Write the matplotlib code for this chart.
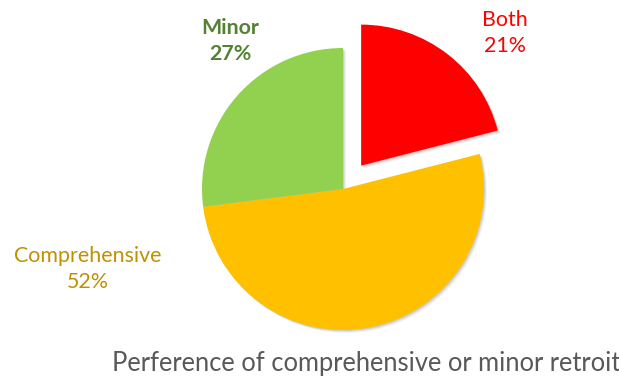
"""Pie chart of retrofit preference."""

import matplotlib.pyplot as plt

labels = ["Both", "Comprehensive", "Minor"]
shares = [21, 52, 27]
slice_colors = ["#FF0000", "#FFC000", "#92D050"]
label_colors = ["#FF0000", "#BF9000", "#548235"]
label_weights = ["normal", "normal", "bold"]
title = "Perference of comprehensive or minor retroit"

W, H = 619, 378
CENTER = (343, H - 189)
RADIUS = 141
# pie() offsets in data units, so scale the pull-out by the radius
explode = [0.21 * RADIUS, 0, 0]
# label anchor points (pixels, y measured from the top)
label_pos = [(505, 33), (88, 269), (230, 41)]

plt.rcParams["font.family"] = ["Lato", "DejaVu Sans"]

fig = plt.figure(figsize=(W / 100, H / 100), dpi=100)
ax = fig.add_axes([0, 0, 1, 1])

# soft shadow underneath
for dx, a in [(3.0, 0.05), (2.0, 0.07), (1.0, 0.09)]:
    ax.pie(shares, colors=["#000000"] * 3, startangle=90,
           counterclock=False, explode=explode, radius=RADIUS,
           center=(CENTER[0] + dx, CENTER[1] - dx),
           wedgeprops=dict(linewidth=0, alpha=a))

wedges, _ = ax.pie(shares, colors=slice_colors, startangle=90,
                   counterclock=False, explode=explode, radius=RADIUS,
                   center=CENTER, wedgeprops=dict(linewidth=0))
ax.set_xlim(0, W)
ax.set_ylim(0, H)
ax.set_aspect("equal")
ax.axis("off")

for name, val, col, wt, (x, y) in zip(labels, shares, label_colors,
                                      label_weights, label_pos):
    ax.text(x, H - y, f"{name}\n{val}%", color=col, fontsize=15.4,
            fontweight=wt, ha="center", va="center", linespacing=1.4)

ax.text(366, H - 363, title, color="#595959", fontsize=18.4,
        ha="center", va="center")

fig.savefig("out.png", dpi=100)
